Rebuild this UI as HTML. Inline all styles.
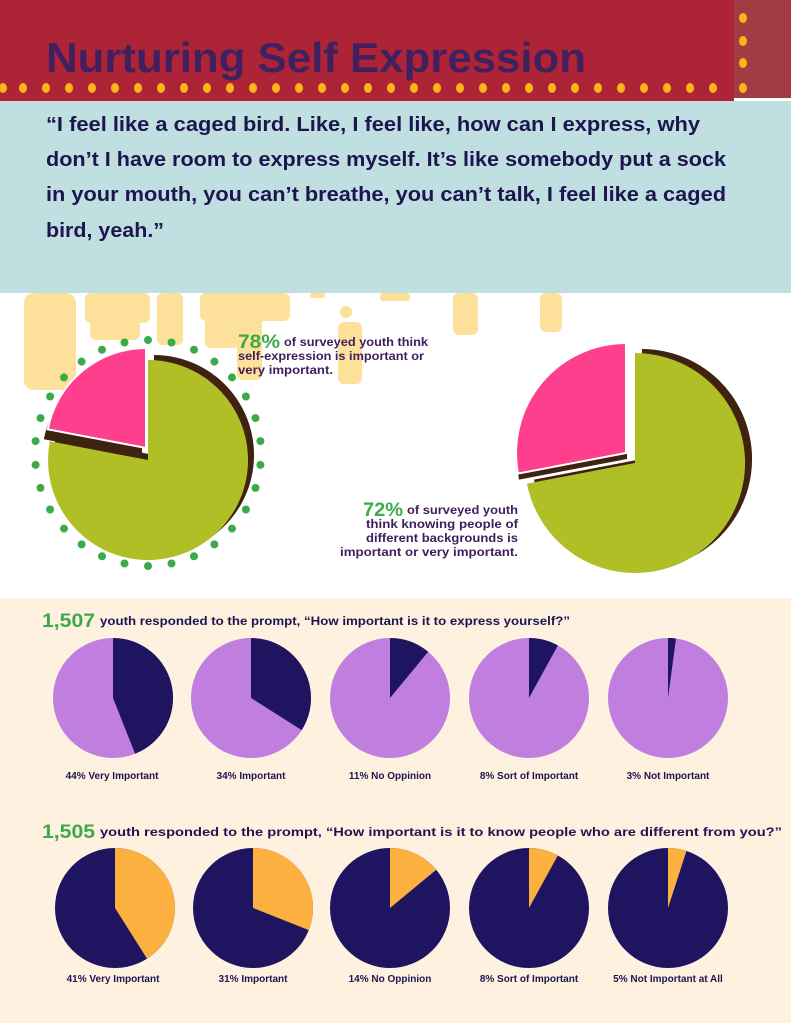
<!DOCTYPE html>
<html><head><meta charset="utf-8"><style>
html,body{margin:0;padding:0;width:791px;height:1023px;overflow:hidden;background:#fff}
svg{display:block}
text{font-family:"Liberation Sans",sans-serif;font-weight:bold}
</style></head><body>
<svg width="791" height="1023" viewBox="0 0 791 1023" xmlns="http://www.w3.org/2000/svg">
<rect x="0" y="0" width="791" height="1023" fill="#fff"/>
<rect x="0" y="598" width="791" height="425" fill="#fef1e0"/>
<rect x="0" y="0" width="734" height="104" fill="#ac2436"/>
<rect x="734" y="0" width="57" height="98" fill="#a33c42"/>
<rect x="0" y="101" width="791" height="192" fill="#c0dfe0"/>
<text x="46" y="72" font-size="42" fill="#40205f" textLength="540" lengthAdjust="spacingAndGlyphs">Nurturing Self Expression</text>
<g fill="#fbb516">
<ellipse cx="3" cy="88" rx="4" ry="5"/><ellipse cx="23" cy="88" rx="4" ry="5"/><ellipse cx="46" cy="88" rx="4" ry="5"/><ellipse cx="69" cy="88" rx="4" ry="5"/><ellipse cx="92" cy="88" rx="4" ry="5"/><ellipse cx="115" cy="88" rx="4" ry="5"/><ellipse cx="138" cy="88" rx="4" ry="5"/><ellipse cx="161" cy="88" rx="4" ry="5"/><ellipse cx="184" cy="88" rx="4" ry="5"/><ellipse cx="207" cy="88" rx="4" ry="5"/><ellipse cx="230" cy="88" rx="4" ry="5"/><ellipse cx="253" cy="88" rx="4" ry="5"/><ellipse cx="276" cy="88" rx="4" ry="5"/><ellipse cx="299" cy="88" rx="4" ry="5"/><ellipse cx="322" cy="88" rx="4" ry="5"/><ellipse cx="345" cy="88" rx="4" ry="5"/><ellipse cx="368" cy="88" rx="4" ry="5"/><ellipse cx="391" cy="88" rx="4" ry="5"/><ellipse cx="414" cy="88" rx="4" ry="5"/><ellipse cx="437" cy="88" rx="4" ry="5"/><ellipse cx="460" cy="88" rx="4" ry="5"/><ellipse cx="483" cy="88" rx="4" ry="5"/><ellipse cx="506" cy="88" rx="4" ry="5"/><ellipse cx="529" cy="88" rx="4" ry="5"/><ellipse cx="552" cy="88" rx="4" ry="5"/><ellipse cx="575" cy="88" rx="4" ry="5"/><ellipse cx="598" cy="88" rx="4" ry="5"/><ellipse cx="621" cy="88" rx="4" ry="5"/><ellipse cx="644" cy="88" rx="4" ry="5"/><ellipse cx="667" cy="88" rx="4" ry="5"/><ellipse cx="690" cy="88" rx="4" ry="5"/><ellipse cx="713" cy="88" rx="4" ry="5"/><ellipse cx="743" cy="88" rx="4" ry="5"/>
<ellipse cx="743" cy="63" rx="4" ry="5"/><ellipse cx="743" cy="41" rx="4" ry="5"/><ellipse cx="743" cy="18" rx="4" ry="5"/>
</g>
<g fill="#1e1550" font-size="20">
<text x="46" y="131" textLength="654" lengthAdjust="spacingAndGlyphs">“I feel like a caged bird. Like, I feel like, how can I express, why</text>
<text x="46" y="166" textLength="680" lengthAdjust="spacingAndGlyphs">don’t I have room to express myself.  It’s like somebody put a sock</text>
<text x="46" y="201" textLength="680" lengthAdjust="spacingAndGlyphs">in your mouth, you can’t breathe, you can’t talk, I feel like a caged</text>
<text x="46" y="237" textLength="118" lengthAdjust="spacingAndGlyphs">bird, yeah.”</text>
</g>
<g fill="#fde09a">
<rect x="24" y="293" width="52" height="97" rx="10"/>
<rect x="85" y="293" width="65" height="30" rx="6"/>
<rect x="90" y="300" width="50" height="40" rx="6"/>
<rect x="157" y="293" width="26" height="52" rx="6"/>
<rect x="200" y="293" width="90" height="28" rx="6"/>
<rect x="205" y="300" width="35" height="48" rx="6"/>
<rect x="237" y="300" width="25" height="80" rx="6"/>
<circle cx="346" cy="312" r="6"/>
<rect x="338" y="322" width="24" height="62" rx="6"/>
<rect x="453" y="293" width="25" height="42" rx="6"/>
<rect x="540" y="293" width="22" height="39" rx="6"/>
<rect x="310" y="293" width="15" height="5" rx="2"/>
<rect x="380" y="293" width="30" height="8" rx="3"/>
</g>
<g fill="#3daa4a">
<circle cx="148" cy="340" r="4"/><circle cx="171.5" cy="342.5" r="4"/><circle cx="194" cy="349.7" r="4"/><circle cx="214.4" cy="361.6" r="4"/><circle cx="232" cy="377.4" r="4"/><circle cx="245.9" cy="396.5" r="4"/><circle cx="255.5" cy="418.1" r="4"/><circle cx="260.4" cy="441.1" r="4"/><circle cx="260.4" cy="464.9" r="4"/><circle cx="255.5" cy="487.9" r="4"/><circle cx="245.9" cy="509.5" r="4"/><circle cx="232" cy="528.6" r="4"/><circle cx="214.4" cy="544.4" r="4"/><circle cx="194" cy="556.3" r="4"/><circle cx="171.5" cy="563.5" r="4"/><circle cx="148" cy="566" r="4"/><circle cx="124.5" cy="563.5" r="4"/><circle cx="102" cy="556.3" r="4"/><circle cx="81.6" cy="544.4" r="4"/><circle cx="64" cy="528.6" r="4"/><circle cx="50.1" cy="509.5" r="4"/><circle cx="40.5" cy="487.9" r="4"/><circle cx="35.6" cy="464.9" r="4"/><circle cx="35.6" cy="441.1" r="4"/><circle cx="40.5" cy="418.1" r="4"/><circle cx="50.1" cy="396.5" r="4"/><circle cx="64" cy="377.4" r="4"/><circle cx="81.6" cy="361.6" r="4"/><circle cx="102" cy="349.7" r="4"/><circle cx="124.5" cy="342.5" r="4"/>
</g>
<path d="M148,460 L148,360 A100,100 0 1 1 49.8,441.3 Z" fill="#3f2210" transform="translate(6,-5)"/>
<path d="M148,460 L148,360 A100,100 0 1 1 49.8,441.3 Z" fill="#b1bf27"/>
<path d="M148,460 L49.8,441.3 A100,100 0 0 1 148,360 Z" fill="#3f2210" transform="translate(-6,-2)"/>
<path d="M148,460 L49.8,441.3 A100,100 0 0 1 148,360 Z" fill="#fe3f8e" stroke="#fff" stroke-width="2" transform="translate(-2,-12)"/>
<path d="M635,463 L635,353 A110,110 0 1 1 527,483.6 Z" fill="#3f2210" transform="translate(7,-4)"/>
<path d="M635,463 L635,353 A110,110 0 1 1 527,483.6 Z" fill="#b1bf27"/>
<path d="M635,463 L527,483.6 A110,110 0 0 1 635,353 Z" fill="#3f2210" transform="translate(-8,-4)"/>
<path d="M635,463 L527,483.6 A110,110 0 0 1 635,353 Z" fill="#fe3f8e" stroke="#fff" stroke-width="2" transform="translate(-9,-10)"/>
<text x="238" y="348" font-size="19" fill="#3daa4a" textLength="42" lengthAdjust="spacingAndGlyphs">78%</text>
<g font-size="12" fill="#3d1f5c">
<text x="284" y="346" textLength="144" lengthAdjust="spacingAndGlyphs">of surveyed youth think</text>
<text x="238" y="360" textLength="186" lengthAdjust="spacingAndGlyphs">self-expression is important or</text>
<text x="238" y="374" textLength="95" lengthAdjust="spacingAndGlyphs">very important.</text>
</g>
<text x="363" y="516" font-size="19" fill="#3daa4a" textLength="40" lengthAdjust="spacingAndGlyphs">72%</text>
<g font-size="12" fill="#3d1f5c">
<text x="407" y="514" textLength="111" lengthAdjust="spacingAndGlyphs">of surveyed youth</text>
<text x="366" y="528" textLength="152" lengthAdjust="spacingAndGlyphs">think knowing people of</text>
<text x="366" y="542" textLength="152" lengthAdjust="spacingAndGlyphs">different backgrounds is</text>
<text x="340" y="556" textLength="178" lengthAdjust="spacingAndGlyphs">important or very important.</text>
</g>
<text x="42" y="627" font-size="19" fill="#3daa4a" textLength="53" lengthAdjust="spacingAndGlyphs">1,507</text>
<text x="100" y="625" font-size="12" fill="#1e1550" textLength="470" lengthAdjust="spacingAndGlyphs">youth responded to the prompt, “How important is it to express yourself?”</text>
<g>
<circle cx="113" cy="698" r="60" fill="#c07fdf"/><path d="M113,698 L113,638 A60,60 0 0 1 135.1,753.8 Z" fill="#1e1460"/>
<circle cx="251" cy="698" r="60" fill="#c07fdf"/><path d="M251,698 L251,638 A60,60 0 0 1 301.7,730.1 Z" fill="#1e1460"/>
<circle cx="390" cy="698" r="60" fill="#c07fdf"/><path d="M390,698 L390,638 A60,60 0 0 1 428.2,651.8 Z" fill="#1e1460"/>
<circle cx="529" cy="698" r="60" fill="#c07fdf"/><path d="M529,698 L529,638 A60,60 0 0 1 557.9,645.4 Z" fill="#1e1460"/>
<circle cx="668" cy="698" r="60" fill="#c07fdf"/><path d="M668,698 L668,638 A60,60 0 0 1 676,638.5 Z" fill="#1e1460"/>
</g>
<g font-size="10" fill="#1e1550" text-anchor="middle">
<text x="112" y="779">44% Very Important</text>
<text x="251" y="779">34% Important</text>
<text x="390" y="779">11% No Oppinion</text>
<text x="529" y="779">8% Sort of Important</text>
<text x="668" y="779">3% Not Important</text>
</g>
<text x="42" y="838" font-size="19" fill="#3daa4a" textLength="53" lengthAdjust="spacingAndGlyphs">1,505</text>
<text x="100" y="836" font-size="12" fill="#1e1550" textLength="682" lengthAdjust="spacingAndGlyphs">youth responded to the prompt, “How important is it to know people who are different from you?”</text>
<g>
<circle cx="115" cy="908" r="60" fill="#1e1460"/><path d="M115,908 L115,848 A60,60 0 0 1 147.1,958.7 Z" fill="#fbb040"/>
<circle cx="253" cy="908" r="60" fill="#1e1460"/><path d="M253,908 L253,848 A60,60 0 0 1 308.8,930.1 Z" fill="#fbb040"/>
<circle cx="390" cy="908" r="60" fill="#1e1460"/><path d="M390,908 L390,848 A60,60 0 0 1 436.2,869.8 Z" fill="#fbb040"/>
<circle cx="529" cy="908" r="60" fill="#1e1460"/><path d="M529,908 L529,848 A60,60 0 0 1 557.9,855.4 Z" fill="#fbb040"/>
<circle cx="668" cy="908" r="60" fill="#1e1460"/><path d="M668,908 L668,848 A60,60 0 0 1 686.5,850.9 Z" fill="#fbb040"/>
</g>
<g font-size="10" fill="#1e1550" text-anchor="middle">
<text x="113" y="982">41% Very Important</text>
<text x="253" y="982">31% Important</text>
<text x="390" y="982">14% No Oppinion</text>
<text x="529" y="982">8% Sort of Important</text>
<text x="668" y="982">5% Not Important at All</text>
</g>
</svg>
</body></html>
